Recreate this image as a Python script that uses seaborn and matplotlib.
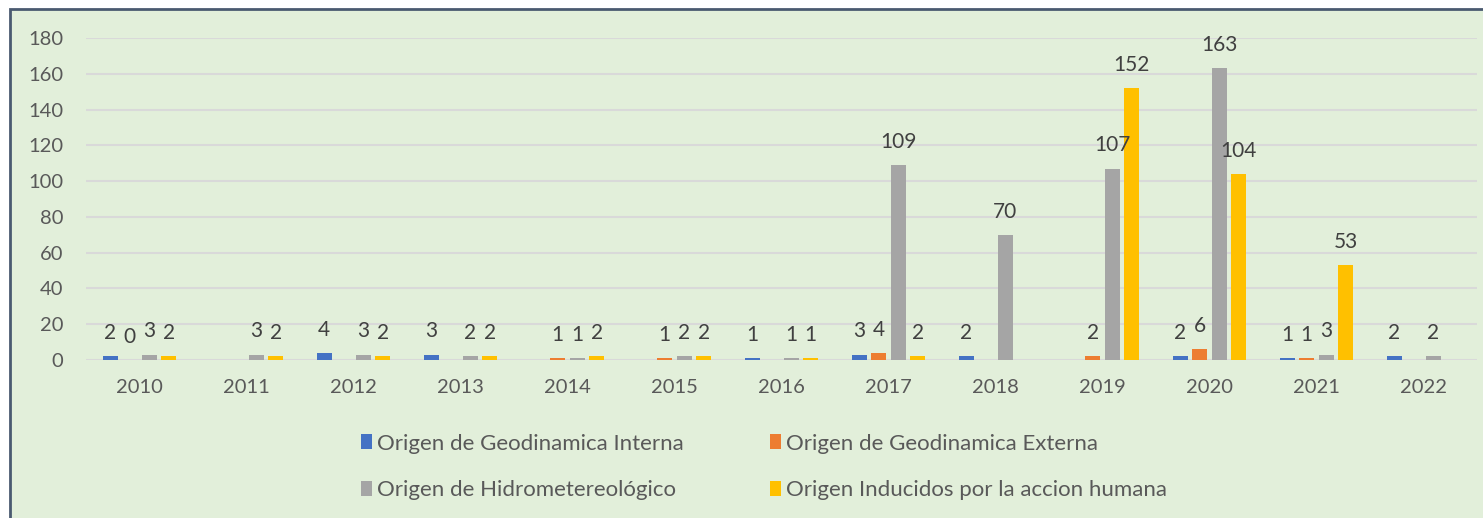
import numpy as np
import pandas as pd
import seaborn as sns
import matplotlib.pyplot as plt
from matplotlib.patches import Rectangle, Patch

# data (nan = no bar shown)
years = ["2010", "2011", "2012", "2013", "2014", "2015", "2016",
         "2017", "2018", "2019", "2020", "2021", "2022"]
interna = [2, np.nan, 4, 3, np.nan, np.nan, 1, 3, 2, np.nan, 2, 1, 2]
externa = [0, np.nan, np.nan, np.nan, 1, 1, np.nan, 4, np.nan, 2, 6, 1, np.nan]
hidro = [3, 3, 3, 2, 1, 2, 1, 109, 70, 107, 163, 3, 2]
inducidos = [2, 2, 2, 2, 2, 2, 1, 2, np.nan, 152, 104, 53, np.nan]

series = ["Origen de Geodinamica Interna", "Origen de Geodinamica Externa",
          "Origen de Hidrometereológico", "Origen Inducidos por la accion humana"]
colors = ["#4472C4", "#ED7D31", "#A5A5A5", "#FFC000"]

df = pd.DataFrame({"year": years, series[0]: interna, series[1]: externa,
                   series[2]: hidro, series[3]: inducidos})
df = df.melt(id_vars="year", var_name="origen", value_name="valor").dropna()

bg = "#E2EFDA"
sns.set_style("white")
plt.rcParams["font.family"] = ["Lato", "DejaVu Sans"]

fig = plt.figure(figsize=(14.83, 5.18), dpi=100)
fig.patch.set_facecolor("white")
fig.patches.append(Rectangle((10 / 1483, -0.1), 1.2, 1 - 9 / 518 + 0.1,
                             transform=fig.transFigure, facecolor=bg,
                             edgecolor="#4A5A70", linewidth=2, zorder=-5))

ax = fig.add_axes([86 / 1483, 1 - 360 / 518, (1477 - 86) / 1483, (360 - 38) / 518])
ax.set_facecolor("none")

sns.barplot(data=df, x="year", y="valor", hue="origen", order=years,
            hue_order=series, palette=colors, saturation=1, width=0.73, gap=0.23,
            errorbar=None, legend=False, linewidth=0, ax=ax, zorder=3)

for cont in ax.containers:
    ax.bar_label(cont, fmt="{:.0f}", padding=9.5, fontsize=15, color="#404040")

ax.set_ylim(0, 180)
ax.set_yticks(range(0, 181, 20))
ax.yaxis.grid(True, color="#D9D9D9", linewidth=1.5, zorder=0)
ax.set_axisbelow(True)
for s in ax.spines.values():
    s.set_visible(False)
ax.tick_params(axis="y", length=0, pad=16.5, labelsize=14.5, labelcolor="#595959")
ax.tick_params(axis="x", length=0, pad=14, labelsize=14.5, labelcolor="#595959")
ax.set_xlabel("")
ax.set_ylabel("")

# matplotlib fills legend columns first, reorder so rows read like the reference
order = [0, 2, 1, 3]
handles = [Patch(facecolor=colors[i], edgecolor="none") for i in order]
fig.legend(handles, [series[i] for i in order], loc="center",
           bbox_to_anchor=(764 / 1483, 1 - 467 / 518),
           ncol=2, frameon=False, fontsize=16, labelcolor="#595959",
           handlelength=0.5, handleheight=0.65, handletextpad=0.2,
           columnspacing=3.9, labelspacing=1.2)

fig.savefig("out.png", dpi=100, facecolor=fig.get_facecolor())
